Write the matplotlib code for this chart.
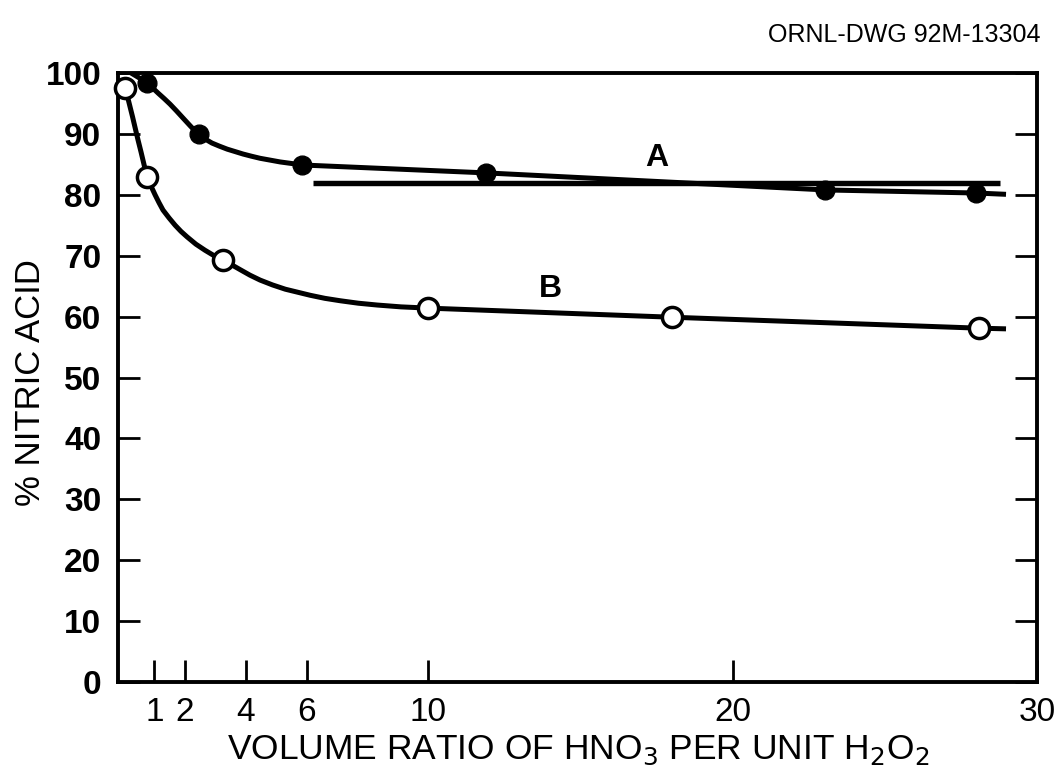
import matplotlib
matplotlib.use("Agg")
import matplotlib.pyplot as plt

plt.rcParams['font.family'] = ['Liberation Sans', 'DejaVu Sans']

# Measured points
a_x = [0.75, 2.45, 5.85, 11.9, 23.05, 28.0]
a_y = [98.4, 90.0, 84.9, 83.6, 80.8, 80.3]
b_x = [0.03, 0.76, 3.26, 10.0, 18.0, 28.1]
b_y = [97.5, 82.9, 69.3, 61.4, 59.9, 58.1]

# Hand-drawn fitted curves
curve_a_x = [0.30, 0.50, 0.76, 0.95, 1.12, 1.32, 1.51, 1.72, 1.94, 2.18, 2.43, 2.65, 2.89, 3.13, 3.39, 3.65, 3.91, 4.18, 4.47, 4.80, 5.13, 5.50, 5.86, 11.9, 23.06, 28.0, 28.9]
curve_a_y = [99.8, 99.2, 98.4, 97.5, 96.7, 95.8, 94.9, 93.8, 92.6, 91.3, 90.0, 89.2, 88.5, 88.0, 87.5, 87.1, 86.7, 86.35, 86.0, 85.7, 85.4, 85.15, 84.9, 83.6, 80.8, 80.3, 80.1]
curve_b_x = [0.03, 0.12, 0.20, 0.28, 0.36, 0.46, 0.56, 0.66, 0.76, 0.89, 1.02, 1.15, 1.28, 1.48, 1.68, 1.87, 2.07, 2.36, 2.66, 2.96, 3.26, 3.54, 3.82, 4.14, 4.47, 4.88, 5.30, 5.71, 6.12, 6.60, 7.11, 7.70, 8.32, 9.10, 9.97, 18.0, 28.1, 28.9]
curve_b_y = [97.5, 96.0, 94.4, 92.8, 91.1, 89.0, 87.0, 84.9, 82.9, 81.4, 80.0, 78.7, 77.5, 76.2, 75.0, 74.0, 73.1, 71.9, 70.9, 70.0, 69.3, 68.5, 67.7, 66.8, 66.0, 65.2, 64.5, 64.0, 63.5, 63.0, 62.6, 62.2, 61.9, 61.6, 61.4, 59.9, 58.1, 58.0]

# Horizontal reference line
ref_x = [6.2, 28.8]
ref_y = [82.0, 82.0]

x_ticks = [1, 2, 4, 6, 10, 20, 30]
y_ticks = [0, 10, 20, 30, 40, 50, 60, 70, 80, 90, 100]

fig = plt.figure(figsize=(10.56, 7.77), dpi=100)
ax = fig.add_axes([0.1117, 0.1223, 0.982 - 0.1117, 0.906 - 0.1223])

ax.plot(ref_x, ref_y, color='black', lw=3.9, solid_capstyle='butt', zorder=2)
ax.plot(curve_a_x, curve_a_y, color='black', lw=3.6, zorder=2, solid_joinstyle='round')
ax.plot(curve_b_x, curve_b_y, color='black', lw=3.6, zorder=2, solid_joinstyle='round')
ax.plot(a_x, a_y, 'o', color='black', ms=13.5, zorder=3, clip_on=False)
ax.plot(b_x, b_y, 'o', mfc='white', mec='black', mew=2.5, ms=14.5, zorder=3, clip_on=False)

ax.text(17.5, 86.0, 'A', fontsize=23, fontweight='bold', ha='center', va='center')
ax.text(14.0, 64.6, 'B', fontsize=23, fontweight='bold', ha='center', va='center')

ax.set_xlim(-0.2, 30)
ax.set_ylim(0, 100)
ax.set_xticks(x_ticks)
ax.set_xticklabels([str(t) for t in x_ticks], fontsize=24)
ax.set_yticks(y_ticks)
ax.set_yticklabels([str(t) for t in y_ticks], fontsize=24, fontweight='bold')

ax.tick_params(axis='x', direction='in', length=16, width=2, pad=11, top=False)
ax.tick_params(axis='y', direction='in', length=16, width=2, pad=12, right=True)

for s in ax.spines.values():
    s.set_linewidth(2.8)

fig.text(578 / 1056, 1 - 759 / 777, 'VOLUME RATIO OF HNO$_3$ PER UNIT H$_2$O$_2$',
         fontsize=25.5, ha='center', va='baseline')
fig.text(31 / 1056, 1 - 383 / 777, '% NITRIC ACID', fontsize=25, rotation=90,
         ha='center', va='center')

fig.text(0.985, 0.955, 'ORNL-DWG 92M-13304', fontsize=18, ha='right', va='center')

fig.savefig('out.png', dpi=100)
